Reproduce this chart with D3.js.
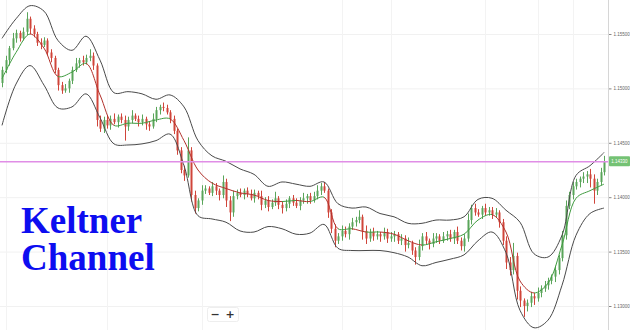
<!DOCTYPE html>
<html>
<head>
<meta charset="utf-8">
<script src="https://cdn.jsdelivr.net/npm/d3@7"></script>
<style>
  body { margin: 0; background: #fff; }
  svg { display: block; }
</style>
</head>
<body>
<div id="chart"></div>
<script>
// price data (close of each candle, open = previous close)
const firstOpen = 1.1505;
const closes = [
  1.1517,1.1526,1.1537,1.1546,1.1551,1.1546,1.1552,1.1564,1.1555,1.1550,
  1.1542,1.1540,1.1544,1.1533,1.1528,1.1517,1.1503,1.1498,1.1500,1.1507,
  1.1517,1.1523,1.1526,1.1524,1.1528,1.1530,1.1521,1.1471,1.1463,1.1471,
  1.1466,1.1472,1.1469,1.1474,1.1471,1.1465,1.1471,1.1475,1.1472,1.1469,
  1.1472,1.1467,1.1465,1.1472,1.1480,1.1483,1.1482,1.1478,1.1472,1.1461,
  1.1443,1.1425,1.1420,1.1443,1.1402,1.1390,1.1397,1.1406,1.1408,1.1404,
  1.1410,1.1406,1.1402,1.1414,1.1397,1.1386,1.1401,1.1404,1.1402,1.1406,
  1.1403,1.1399,1.1404,1.1401,1.1393,1.1397,1.1391,1.1395,1.1399,1.1393,
  1.1390,1.1394,1.1399,1.1395,1.1392,1.1397,1.1399,1.1401,1.1397,1.1401,
  1.1406,1.1410,1.1406,1.1386,1.1371,1.1360,1.1364,1.1369,1.1366,1.1373,
  1.1377,1.1379,1.1382,1.1369,1.1362,1.1368,1.1364,1.1366,1.1364,1.1368,
  1.1362,1.1364,1.1366,1.1360,1.1362,1.1356,1.1358,1.1351,1.1345,1.1355,
  1.1364,1.1360,1.1357,1.1362,1.1364,1.1360,1.1364,1.1366,1.1362,1.1368,
  1.1360,1.1355,1.1362,1.1379,1.1390,1.1386,1.1384,1.1390,1.1386,1.1388,
  1.1384,1.1386,1.1377,1.1360,1.1340,1.1333,1.1346,1.1314,1.1305,1.1300,
  1.1303,1.1309,1.1307,1.1312,1.1316,1.1319,1.1323,1.1327,1.1333,1.1344,
  1.1365,1.1392,1.1402,1.1410,1.1414,1.1417,1.1419,1.1421,1.1417,1.1406,
  1.1414,1.1423,1.1433
];
// wick lengths beyond the body, in pips
const wickHi = [
  3,4,2,5,3,2,4,6,2,3, 2,4,3,2,3,2,2,3,4,2, 3,5,2,4,3,6,3,2,4,3,
  4,3,5,2,3,4,3,5,2,3, 4,2,3,5,3,2,4,3,2,3, 2,3,4,12,3,4,2,5,3,2,
  4,3,2,6,3,4,5,3,4,2, 3,4,3,2,5,3,4,3,6,2, 3,4,2,3,4,3,5,2,3,4,
  5,3,4,2,3,4,3,5,4,3, 4,3,6,2,5,3,4,3,2,4, 3,4,3,2,4,3,5,2,3,6,
  3,4,2,5,3,2,4,3,4,2, 5,3,4,6,3,4,3,2,4,3, 3,4,2,3,4,5,12,3,4,2,
  3,4,3,5,3,4,3,2,4,3, 4,5,3,4,3,2,4,3,5,4, 3,4,5
];
const wickLo = [
  4,3,5,2,4,3,2,3,5,3, 3,4,2,3,4,3,5,3,2,4, 3,2,4,3,2,3,4,6,3,4,
  3,4,2,5,3,13,4,3,2,4, 3,5,4,2,3,4,3,2,4,3, 4,3,5,2,6,5,3,4,3,2,
  3,4,5,3,6,8,4,3,2,4, 3,2,4,3,5,3,4,2,3,4, 5,3,4,3,2,4,3,5,3,2,
  3,4,2,5,4,6,3,4,3,5, 3,4,3,8,5,3,4,3,5,3, 4,3,5,3,4,6,3,4,7,3,
  4,3,5,3,4,3,2,4,3,5, 3,4,5,3,4,3,2,4,3,3, 4,3,5,4,6,5,4,8,6,10,
  5,4,6,3,4,3,4,3,5,4, 3,4,3,4,3,5,4,6,8,12, 4,3,3
];

// Keltner channel, read every 4th candle
const bandIdx = d3.range(0, closes.length, 4);
const upper = [
  1.1546,1.1564,1.1576,1.1571,1.1544,1.1535,1.1548,1.1526,1.1496,1.1497,
  1.1495,1.1490,1.1494,1.1483,1.1452,1.1438,1.1433,1.1426,1.1421,1.1410,
  1.1414,1.1412,1.1410,1.1414,1.1394,1.1390,1.1391,1.1385,1.1382,1.1376,
  1.1376,1.1379,1.1379,1.1382,1.1398,1.1399,1.1388,1.1377,1.1348,1.1345,
  1.1365,1.1420,1.1429,1.1441
];
const middle = [
  1.1509,1.1533,1.1550,1.1537,1.1511,1.1515,1.1523,1.1494,1.1466,1.1468,
  1.1468,1.1471,1.1472,1.1452,1.1425,1.1413,1.1408,1.1404,1.1402,1.1397,
  1.1396,1.1397,1.1396,1.1400,1.1371,1.1371,1.1368,1.1368,1.1366,1.1360,
  1.1356,1.1359,1.1362,1.1366,1.1379,1.1384,1.1368,1.1323,1.1312,1.1321,
  1.1356,1.1399,1.1406,1.1412
];
const lower = [
  1.1466,1.1504,1.1521,1.1503,1.1482,1.1483,1.1495,1.1473,1.1449,1.1448,
  1.1449,1.1452,1.1458,1.1429,1.1383,1.1380,1.1377,1.1369,1.1368,1.1373,
  1.1371,1.1366,1.1367,1.1375,1.1353,1.1351,1.1351,1.1351,1.1349,1.1345,
  1.1337,1.1340,1.1343,1.1347,1.1360,1.1368,1.1349,1.1296,1.1280,1.1287,
  1.1319,1.1365,1.1385,1.1390
];

const priceTicks = [1.155, 1.150, 1.145, 1.140, 1.135, 1.130];
const gridIdx = [1, 30, 57, 97, 111, 138, 153, 163];
const lastPrice = 1.1433;
const titleLines = ["Keltner", "Channel"];

// setting up constants
const FRAME_WIDTH = 630;
const FRAME_HEIGHT = 330;
const PLOT_RIGHT = 608;
const PIP = 0.0001;
const UP = "#5aa55a", DOWN = "#d0453a";

const svg = d3.select('#chart')
    .append('svg')
        .attr('width', FRAME_WIDTH)
        .attr('height', FRAME_HEIGHT);

svg.append('rect')
    .attr('width', FRAME_WIDTH)
    .attr('height', FRAME_HEIGHT)
    .attr('fill', '#fff');

const xScale = d3.scaleLinear()
    .domain([0, closes.length - 1])
    .range([2, 604]);

const yScale = d3.scaleLinear()
    .domain([1.155, 1.130])
    .range([34, 306]);

// faint grid
svg.append('g').selectAll('line.h')
    .data(priceTicks)
    .enter().append('line')
        .attr('x1', 0).attr('x2', PLOT_RIGHT)
        .attr('y1', d => yScale(d) + 0.5).attr('y2', d => yScale(d) + 0.5)
        .attr('stroke', '#f1f1f1');

svg.append('g').selectAll('line.v')
    .data(gridIdx)
    .enter().append('line')
        .attr('x1', d => Math.round(xScale(d)) + 0.5).attr('x2', d => Math.round(xScale(d)) + 0.5)
        .attr('y1', 0).attr('y2', FRAME_HEIGHT)
        .attr('stroke', '#f3f3f3');

// candles
const candles = closes.map((c, i) => {
    const o = i === 0 ? firstOpen : closes[i - 1];
    return {
        i: i, open: o, close: c,
        high: Math.max(o, c) + wickHi[i] * PIP,
        low: Math.min(o, c) - wickLo[i] * PIP
    };
});

const candleG = svg.append('g');
candleG.selectAll('line')
    .data(candles)
    .enter().append('line')
        .attr('x1', d => Math.round(xScale(d.i)) + 0.5)
        .attr('x2', d => Math.round(xScale(d.i)) + 0.5)
        .attr('y1', d => yScale(d.high))
        .attr('y2', d => yScale(d.low))
        .attr('stroke', d => d.close >= d.open ? UP : DOWN)
        .attr('stroke-width', 1);

candleG.selectAll('rect')
    .data(candles)
    .enter().append('rect')
        .attr('x', d => Math.round(xScale(d.i)) - 0.5)
        .attr('width', 2)
        .attr('y', d => yScale(Math.max(d.open, d.close)))
        .attr('height', d => Math.max(1, yScale(Math.min(d.open, d.close)) - yScale(Math.max(d.open, d.close))))
        .attr('fill', d => d.close >= d.open ? UP : DOWN);

// channel lines
const bandLine = d3.line()
    .x((d, k) => xScale(bandIdx[k]))
    .y(d => yScale(d))
    .curve(d3.curveCatmullRom.alpha(0.5));

[upper, lower].forEach(arr => {
    svg.append('path')
        .attr('d', bandLine(arr))
        .attr('fill', 'none')
        .attr('stroke', '#4a4a4a')
        .attr('stroke-width', 1);
});

// middle line coloured by direction
const x0 = xScale(bandIdx[0]), x1 = xScale(bandIdx[bandIdx.length - 1]);
const grad = svg.append('defs').append('linearGradient')
    .attr('id', 'midGrad')
    .attr('gradientUnits', 'userSpaceOnUse')
    .attr('x1', x0).attr('x2', x1).attr('y1', 0).attr('y2', 0);
for (let k = 0; k < middle.length - 1; k++) {
    const col = middle[k + 1] >= middle[k] ? "#3f9a3f" : "#b0302a";
    grad.append('stop').attr('offset', (xScale(bandIdx[k]) - x0) / (x1 - x0)).attr('stop-color', col);
    grad.append('stop').attr('offset', (xScale(bandIdx[k + 1]) - x0) / (x1 - x0)).attr('stop-color', col);
}
svg.append('path')
    .attr('d', bandLine(middle))
    .attr('fill', 'none')
    .attr('stroke', 'url(#midGrad)')
    .attr('stroke-width', 1);

// current price line
svg.append('rect')
    .attr('x', 0).attr('width', PLOT_RIGHT)
    .attr('y', Math.round(yScale(lastPrice))).attr('height', 1.5)
    .attr('fill', '#e08ee6');

// price axis
const yAxis = svg.append('g')
    .attr('transform', 'translate(' + (PLOT_RIGHT + 0.5) + ',0)')
    .call(d3.axisRight(yScale).tickValues(priceTicks).tickSize(3).tickPadding(2).tickFormat(d3.format('.5f')));
yAxis.select('.domain').remove();
yAxis.append('line').attr('y1', 0).attr('y2', FRAME_HEIGHT).attr('stroke', '#d6d6d6');
yAxis.selectAll('.tick line').attr('stroke', '#888');
yAxis.selectAll('.tick text')
    .attr('fill', '#666')
    .style('font-family', 'Arial, "Liberation Sans", sans-serif')
    .style('font-size', '4.5px');

// last price label
const lpY = yScale(lastPrice);
svg.append('rect')
    .attr('x', PLOT_RIGHT + 1).attr('y', lpY - 5)
    .attr('width', 21).attr('height', 10)
    .attr('rx', 1)
    .attr('fill', '#74c274');
svg.append('text')
    .attr('x', PLOT_RIGHT + 11.5).attr('y', lpY + 1.8)
    .attr('text-anchor', 'middle')
    .attr('fill', '#fff')
    .style('font-family', 'Arial, "Liberation Sans", sans-serif')
    .style('font-size', '4.5px')
    .text(d3.format('.5f')(lastPrice));

// zoom buttons
const zoomG = svg.append('g');
zoomG.append('rect')
    .attr('x', 207.5).attr('y', 307.5).attr('width', 31).attr('height', 14)
    .attr('rx', 2).attr('fill', '#fff').attr('stroke', '#eee');
zoomG.selectAll('text')
    .data(["\u2212", "+"])
    .enter().append('text')
        .attr('x', (d, k) => 215 + k * 15)
        .attr('y', 318)
        .attr('text-anchor', 'middle')
        .attr('fill', '#333')
        .style('font-family', '"DejaVu Sans", sans-serif')
        .style('font-size', '11px')
        .style('font-weight', 'bold')
        .text(d => d);

// title
svg.append('g').selectAll('text')
    .data(titleLines)
    .enter().append('text')
        .attr('x', 21)
        .attr('y', (d, k) => 233 + k * 37)
        .attr('fill', '#0d0df0')
        .style('font-family', '"Liberation Serif", "Times New Roman", serif')
        .style('font-weight', 'bold')
        .style('font-size', '37px')
        .text(d => d);
</script>
</body>
</html>
